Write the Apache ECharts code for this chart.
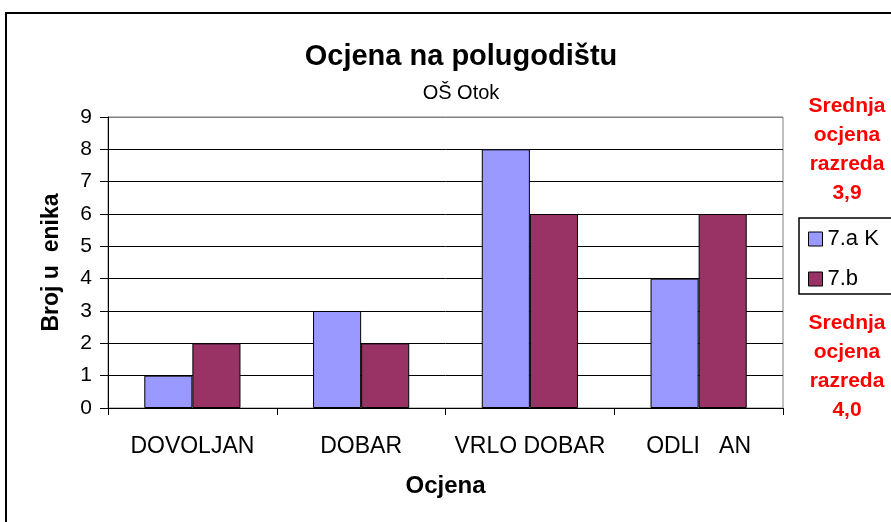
<!DOCTYPE html>
<html>
<head>
<meta charset="utf-8">
<title>Ocjena na polugodištu</title>
<script src="https://cdn.jsdelivr.net/npm/echarts@6/dist/echarts.min.js"></script>
<style>
    html, body { margin: 0; padding: 0; background: #fff; }
    #chart { width: 891px; height: 522px; }
</style>
</head>
<body>
<div id="chart"></div>
<script>
// data
let categories = ['DOVOLJAN', 'DOBAR', 'VRLO DOBAR', 'ODLI   AN'];
let seriesNames = ['7.a K', '7.b'];
let valuesA = [1, 3, 8, 4];
let valuesB = [2, 2, 6, 6];
let averageA = '3,9';
let averageB = '4,0';

drawChart();

function drawChart() {
    let myChart = echarts.init(document.getElementById('chart'));
    let font = '"Liberation Sans", Arial, sans-serif';

    // top gridline is the gray plot border, the rest are black
    let splitColors = ['#000', '#000', '#000', '#000', '#000', '#000', '#000', '#000', '#000', '#808080'];

    let option = {
        animation: false,
        backgroundColor: '#fff',
        textStyle: { fontFamily: font },
        title: {
            text: 'Ocjena na polugodištu',
            subtext: 'OŠ Otok',
            left: 456,
            top: 37,
            textAlign: 'center',
            itemGap: 12,
            textStyle: { fontFamily: font, fontSize: 29, fontWeight: 'bold', color: '#000' },
            subtextStyle: { fontFamily: font, fontSize: 20, color: '#000' }
        },
        legend: {
            orient: 'vertical',
            left: 799,
            top: 218,
            padding: [10, 20, 4, 9],
            itemGap: 18,
            itemWidth: 14,
            itemHeight: 14,
            itemTextGap: 7,
            borderColor: '#000',
            borderWidth: 1.5,
            icon: 'rect',
            itemStyle: { borderColor: '#000', borderWidth: 1 },
            textStyle: { fontFamily: font, fontSize: 22, color: '#000', lineHeight: 22 },
            data: seriesNames
        },
        grid: {
            left: 108,
            right: 108,
            top: 117,
            bottom: 114,
            show: true,
            borderColor: '#808080',
            borderWidth: 1,
            containLabel: false
        },
        xAxis: {
            type: 'category',
            data: categories,
            name: 'Ocjena',
            nameLocation: 'middle',
            nameGap: 66,
            nameTextStyle: { fontFamily: font, fontSize: 24, fontWeight: 'bold', color: '#000' },
            axisLine: { lineStyle: { color: '#000', width: 1 } },
            axisTick: { show: true, length: 7, alignWithLabel: false, lineStyle: { color: '#000' } },
            axisLabel: { fontFamily: font, fontSize: 23, color: '#000', margin: 27, interval: 0 }
        },
        yAxis: {
            type: 'value',
            min: 0,
            max: 9,
            interval: 1,
            name: 'Broj u  enika',
            nameLocation: 'middle',
            nameGap: 45,
            nameTextStyle: { fontFamily: font, fontSize: 23, fontWeight: 'bold', color: '#000' },
            axisLine: { show: true, lineStyle: { color: '#000', width: 1 } },
            axisTick: { show: true, length: 8, lineStyle: { color: '#000' } },
            axisLabel: { fontFamily: font, fontSize: 21, color: '#000', margin: 16 },
            splitLine: { show: true, lineStyle: { color: splitColors, width: 1 } }
        },
        series: [
            {
                name: seriesNames[0],
                type: 'bar',
                data: valuesA,
                barGap: '0%',
                barCategoryGap: '43%',
                itemStyle: { color: '#9999FF', borderColor: '#000', borderWidth: 1 }
            },
            {
                name: seriesNames[1],
                type: 'bar',
                data: valuesB,
                itemStyle: { color: '#993366', borderColor: '#000', borderWidth: 1 }
            }
        ],
        graphic: [
            {
                // outer chart frame
                type: 'rect',
                shape: { x: 6, y: 13, width: 920, height: 540 },
                style: { fill: null, stroke: '#000', lineWidth: 2 },
                silent: true
            },
            {
                type: 'text',
                x: 847,
                y: 92,
                style: {
                    text: 'Srednja\nocjena\nrazreda\n' + averageA,
                    fill: '#ff0000',
                    font: 'bold 21px ' + font,
                    lineHeight: 29,
                    align: 'center'
                }
            },
            {
                type: 'text',
                x: 847,
                y: 309,
                style: {
                    text: 'Srednja\nocjena\nrazreda\n' + averageB,
                    fill: '#ff0000',
                    font: 'bold 21px ' + font,
                    lineHeight: 29,
                    align: 'center'
                }
            }
        ]
    };

    myChart.setOption(option);
}
</script>
</body>
</html>
